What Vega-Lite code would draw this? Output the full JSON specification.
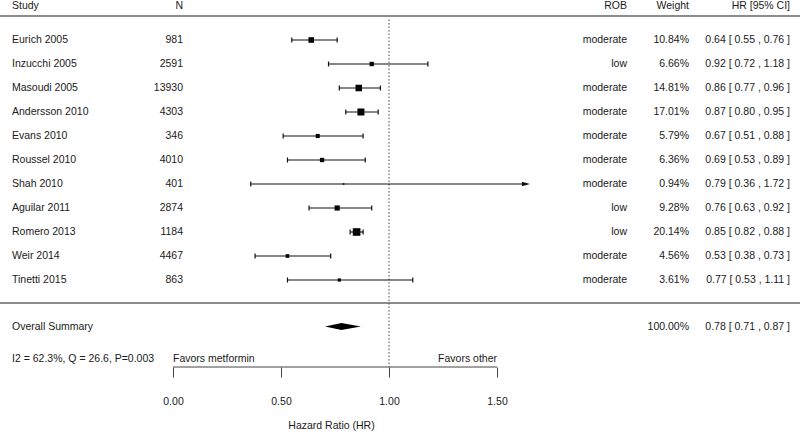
{
  "$schema": "https://vega.github.io/schema/vega-lite/v6.json",
  "width": 800,
  "height": 367,
  "autosize": {"type": "none"},
  "padding": {"left": 0, "top": 0, "right": 0, "bottom": 73},
  "background": "white",
  "config": {
    "view": {"stroke": null},
    "text": {"font": "Liberation Sans", "fontSize": 10.5, "color": "#1a1a1a", "baseline": "middle"}
  },
  "datasets": {
    "studies": [
      {"row": 1, "study": "Eurich 2005", "n": 981, "rob": "moderate", "weight": 10.84, "hr": 0.64, "lo": 0.55, "hi": 0.76, "wlab": "10.84%", "cilab": "0.64 [ 0.55 , 0.76 ]"},
      {"row": 2, "study": "Inzucchi 2005", "n": 2591, "rob": "low", "weight": 6.66, "hr": 0.92, "lo": 0.72, "hi": 1.18, "wlab": "6.66%", "cilab": "0.92 [ 0.72 , 1.18 ]"},
      {"row": 3, "study": "Masoudi 2005", "n": 13930, "rob": "moderate", "weight": 14.81, "hr": 0.86, "lo": 0.77, "hi": 0.96, "wlab": "14.81%", "cilab": "0.86 [ 0.77 , 0.96 ]"},
      {"row": 4, "study": "Andersson 2010", "n": 4303, "rob": "moderate", "weight": 17.01, "hr": 0.87, "lo": 0.80, "hi": 0.95, "wlab": "17.01%", "cilab": "0.87 [ 0.80 , 0.95 ]"},
      {"row": 5, "study": "Evans 2010", "n": 346, "rob": "moderate", "weight": 5.79, "hr": 0.67, "lo": 0.51, "hi": 0.88, "wlab": "5.79%", "cilab": "0.67 [ 0.51 , 0.88 ]"},
      {"row": 6, "study": "Roussel 2010", "n": 4010, "rob": "moderate", "weight": 6.36, "hr": 0.69, "lo": 0.53, "hi": 0.89, "wlab": "6.36%", "cilab": "0.69 [ 0.53 , 0.89 ]"},
      {"row": 7, "study": "Shah 2010", "n": 401, "rob": "moderate", "weight": 0.94, "hr": 0.79, "lo": 0.36, "hi": 1.72, "wlab": "0.94%", "cilab": "0.79 [ 0.36 , 1.72 ]"},
      {"row": 8, "study": "Aguilar 2011", "n": 2874, "rob": "low", "weight": 9.28, "hr": 0.76, "lo": 0.63, "hi": 0.92, "wlab": "9.28%", "cilab": "0.76 [ 0.63 , 0.92 ]"},
      {"row": 9, "study": "Romero 2013", "n": 1184, "rob": "low", "weight": 20.14, "hr": 0.85, "lo": 0.82, "hi": 0.88, "wlab": "20.14%", "cilab": "0.85 [ 0.82 , 0.88 ]"},
      {"row": 10, "study": "Weir 2014", "n": 4467, "rob": "moderate", "weight": 4.56, "hr": 0.53, "lo": 0.38, "hi": 0.73, "wlab": "4.56%", "cilab": "0.53 [ 0.38 , 0.73 ]"},
      {"row": 11, "study": "Tinetti 2015", "n": 863, "rob": "moderate", "weight": 3.61, "hr": 0.77, "lo": 0.53, "hi": 1.11, "wlab": "3.61%", "cilab": "0.77 [ 0.53 , 1.11 ]"}
    ],
    "summary": [
      {"hr": 0.704, "top": 12.94, "bot": 12.94},
      {"hr": 0.78, "top": 12.795, "bot": 13.085},
      {"hr": 0.87, "top": 12.94, "bot": 12.94}
    ],
    "one": [{}]
  },
  "data": {"name": "studies"},
  "layer": [
    {
      "mark": {"type": "point", "shape": "square", "filled": true, "color": "#000", "opacity": 1},
      "encoding": {
        "x": {"field": "hr", "type": "quantitative", "scale": {"domain": [-0.80093, 2.90278], "nice": false, "zero": false},
          "axis": {"values": [0, 0.5, 1, 1.5], "format": ".2f", "domain": false, "grid": false, "ticks": true, "tickSize": 10, "tickColor": "#444", "tickWidth": 1,
            "labelFont": "Liberation Sans", "labelFontSize": 10.5, "labelColor": "#1a1a1a", "labelBaseline": "middle", "labelPadding": 24, "labelFlush": false, "labelOverlap": false,
            "title": "Hazard Ratio (HR)", "titleFont": "Liberation Sans", "titleFontSize": 10.5, "titleFontWeight": "normal", "titleColor": "#1a1a1a", "titleX": 331, "titleY": 58, "titleBaseline": "middle", "titleAlign": "center"}},
        "y": {"field": "row", "type": "quantitative", "scale": {"domain": [-0.6667, 14.625], "nice": false, "zero": false, "reverse": true}, "axis": null},
        "size": {"field": "weight", "type": "quantitative", "scale": {"domain": [0, 20.14], "range": [0, 58], "zero": true}, "legend": null}
      }
    },
    {
      "data": {"name": "one"},
      "mark": {"type": "rule", "stroke": "#666", "strokeWidth": 1.6},
      "encoding": {"x": {"datum": -0.801, "type": "quantitative"}, "x2": {"datum": 2.903}, "y": {"datum": 0, "type": "quantitative"}}
    },
    {
      "data": {"name": "one"},
      "mark": {"type": "rule", "stroke": "#666", "strokeWidth": 1.6},
      "encoding": {"x": {"datum": -0.801, "type": "quantitative"}, "x2": {"datum": 2.903}, "y": {"datum": 11.958, "type": "quantitative"}}
    },
    {
      "data": {"name": "one"},
      "mark": {"type": "rule", "stroke": "#444", "strokeWidth": 1, "strokeDash": [1.5, 2]},
      "encoding": {"x": {"datum": 1, "type": "quantitative"}, "y": {"datum": 0.15, "type": "quantitative"}, "y2": {"datum": 14.625}}
    },
    {
      "data": {"name": "one"},
      "mark": {"type": "rule", "stroke": "#444", "strokeWidth": 1},
      "encoding": {"x": {"datum": 0, "type": "quantitative"}, "x2": {"datum": 1.5}, "y": {"datum": 14.625, "type": "quantitative"}}
    },
    {
      "transform": [{"filter": "datum.hi <= 1.6"}],
      "mark": {"type": "rule", "stroke": "#111", "strokeWidth": 1.2},
      "encoding": {"x": {"field": "lo", "type": "quantitative"}, "x2": {"field": "hi"}, "y": {"field": "row", "type": "quantitative"}}
    },
    {
      "transform": [{"filter": "datum.hi > 1.6"}],
      "mark": {"type": "rule", "stroke": "#111", "strokeWidth": 1.2},
      "encoding": {"x": {"field": "lo", "type": "quantitative"}, "x2": {"datum": 1.64}, "y": {"field": "row", "type": "quantitative"}}
    },
    {
      "transform": [{"filter": "datum.hi > 1.6"}],
      "mark": {"type": "point", "shape": "M-1,-0.55L1,0L-1,0.55Z", "filled": true, "color": "#111", "opacity": 1, "size": 64},
      "encoding": {"x": {"datum": 1.634, "type": "quantitative"}, "y": {"field": "row", "type": "quantitative"}}
    },
    {
      "mark": {"type": "tick", "orient": "vertical", "color": "#111", "size": 5, "thickness": 1.2, "opacity": 1},
      "encoding": {"x": {"field": "lo", "type": "quantitative"}, "y": {"field": "row", "type": "quantitative"}}
    },
    {
      "transform": [{"filter": "datum.hi <= 1.6"}],
      "mark": {"type": "tick", "orient": "vertical", "color": "#111", "size": 5, "thickness": 1.2, "opacity": 1},
      "encoding": {"x": {"field": "hi", "type": "quantitative"}, "y": {"field": "row", "type": "quantitative"}}
    },
    {
      "mark": {"type": "text", "align": "left"},
      "encoding": {"x": {"datum": -0.7454, "type": "quantitative"}, "y": {"field": "row", "type": "quantitative"}, "text": {"field": "study"}}
    },
    {
      "mark": {"type": "text", "align": "right"},
      "encoding": {"x": {"datum": 0.0463, "type": "quantitative"}, "y": {"field": "row", "type": "quantitative"}, "text": {"field": "n", "type": "quantitative", "format": "d"}}
    },
    {
      "mark": {"type": "text", "align": "right"},
      "encoding": {"x": {"datum": 2.1019, "type": "quantitative"}, "y": {"field": "row", "type": "quantitative"}, "text": {"field": "rob"}}
    },
    {
      "mark": {"type": "text", "align": "right"},
      "encoding": {"x": {"datum": 2.3889, "type": "quantitative"}, "y": {"field": "row", "type": "quantitative"}, "text": {"field": "wlab"}}
    },
    {
      "mark": {"type": "text", "align": "right"},
      "encoding": {"x": {"datum": 2.8565, "type": "quantitative"}, "y": {"field": "row", "type": "quantitative"}, "text": {"field": "cilab"}}
    },
    {
      "data": {"name": "summary"},
      "mark": {"type": "area", "orient": "vertical", "color": "#000", "opacity": 1, "line": false},
      "encoding": {"x": {"field": "hr", "type": "quantitative"}, "y": {"field": "top", "type": "quantitative"}, "y2": {"field": "bot"}}
    },
    {
      "data": {"name": "one"},
      "mark": {"type": "text", "align": "left", "text": "Study"},
      "encoding": {"x": {"datum": -0.7454, "type": "quantitative"}, "y": {"datum": -0.41, "type": "quantitative"}}
    },
    {
      "data": {"name": "one"},
      "mark": {"type": "text", "align": "right", "text": "N"},
      "encoding": {"x": {"datum": 0.0463, "type": "quantitative"}, "y": {"datum": -0.41, "type": "quantitative"}}
    },
    {
      "data": {"name": "one"},
      "mark": {"type": "text", "align": "right", "text": "ROB"},
      "encoding": {"x": {"datum": 2.1019, "type": "quantitative"}, "y": {"datum": -0.41, "type": "quantitative"}}
    },
    {
      "data": {"name": "one"},
      "mark": {"type": "text", "align": "right", "text": "Weight"},
      "encoding": {"x": {"datum": 2.3889, "type": "quantitative"}, "y": {"datum": -0.41, "type": "quantitative"}}
    },
    {
      "data": {"name": "one"},
      "mark": {"type": "text", "align": "right", "text": "HR [95% CI]"},
      "encoding": {"x": {"datum": 2.8565, "type": "quantitative"}, "y": {"datum": -0.41, "type": "quantitative"}}
    },
    {
      "data": {"name": "one"},
      "mark": {"type": "text", "align": "left", "text": "Overall Summary"},
      "encoding": {"x": {"datum": -0.7454, "type": "quantitative"}, "y": {"datum": 12.94, "type": "quantitative"}}
    },
    {
      "data": {"name": "one"},
      "mark": {"type": "text", "align": "right", "text": "100.00%"},
      "encoding": {"x": {"datum": 2.3889, "type": "quantitative"}, "y": {"datum": 12.94, "type": "quantitative"}}
    },
    {
      "data": {"name": "one"},
      "mark": {"type": "text", "align": "right", "text": "0.78 [ 0.71 , 0.87 ]"},
      "encoding": {"x": {"datum": 2.8565, "type": "quantitative"}, "y": {"datum": 12.94, "type": "quantitative"}}
    },
    {
      "data": {"name": "one"},
      "mark": {"type": "text", "align": "left", "text": "I2 = 62.3%, Q = 26.6, P=0.003"},
      "encoding": {"x": {"datum": -0.7454, "type": "quantitative"}, "y": {"datum": 14.29, "type": "quantitative"}}
    },
    {
      "data": {"name": "one"},
      "mark": {"type": "text", "align": "left", "text": "Favors metformin"},
      "encoding": {"x": {"datum": 0, "type": "quantitative"}, "y": {"datum": 14.29, "type": "quantitative"}}
    },
    {
      "data": {"name": "one"},
      "mark": {"type": "text", "align": "right", "text": "Favors other"},
      "encoding": {"x": {"datum": 1.5, "type": "quantitative"}, "y": {"datum": 14.29, "type": "quantitative"}}
    }
  ]
}
